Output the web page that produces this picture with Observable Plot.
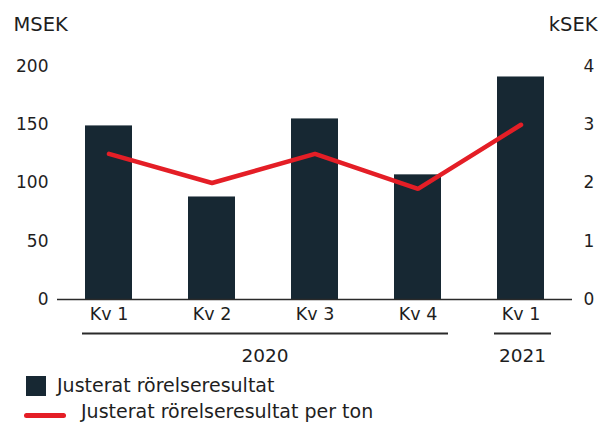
<!DOCTYPE html>
<html><head><meta charset="utf-8">
<script src="https://cdn.jsdelivr.net/npm/d3@7"></script>
<script src="https://cdn.jsdelivr.net/npm/@observablehq/plot@0.6"></script>
<style>
body{margin:0;background:#fff;font-family:"DejaVu Sans",sans-serif;color:#1e1e1e;}
#wrap{position:relative;width:598px;height:423px;overflow:hidden;}
#wrap svg{position:absolute;left:0;top:0;}
.sw{position:absolute;}
.lt{position:absolute;font-size:19px;line-height:20px;white-space:nowrap;color:#1e1e1e;}
</style></head><body><div id="wrap"></div>
<script>
const quarters = ["Kv 1","Kv 2","Kv 3","Kv 4","Kv 1"];
const years = ["2020","2020","2020","2020","2021"];
const result = [149, 88, 155, 107, 191];      // MSEK
const perTon = [2.5, 2.0, 2.5, 1.9, 3.0];     // kSEK
const leftTicks = [0, 50, 100, 150, 200];
const rightTicks = [0, 1, 2, 3, 4];
const seriesNames = ["Justerat rörelseresultat", "Justerat rörelseresultat per ton"];
const unitLeft = "MSEK";
const unitRight = "kSEK";

const barColor = "#172833";
const lineColor = "#e41e26";
const ratio = leftTicks[leftTicks.length-1] / rightTicks[rightTicks.length-1];

const data = quarters.map((q, i) => ({key: years[i] + " " + q, q, year: years[i], result: result[i], perTon: perTon[i]}));
const keyToQ = new Map(data.map(d => [d.key, d.q]));

const plot = Plot.plot({
  width: 598, height: 375,
  marginTop: 66, marginBottom: 76, marginLeft: 57, marginRight: 26,
  style: {fontFamily: "'DejaVu Sans', sans-serif", fontSize: "17px", color: "#1e1e1e", background: "#fff", overflow: "visible"},
  x: {domain: data.map(d => d.key), paddingInner: 0.544, paddingOuter: 0.272},
  y: {domain: [0, 200]},
  marks: [
    Plot.barY(data, {x: "key", y: "result", fill: barColor}),
    Plot.ruleY([0], {stroke: "#2a2a2a", strokeWidth: 1.5}),
    Plot.line(data, {x: "key", y: d => d.perTon * ratio, stroke: lineColor, strokeWidth: 4.5, strokeLinecap: "round", strokeLinejoin: "miter"}),
    Plot.axisX({tickSize: 0, tickPadding: 8, tickFormat: k => keyToQ.get(k), fontSize: 17.5, label: null}),
    Plot.axisY(leftTicks, {anchor: "left", tickSize: 0, tickPadding: 9, label: null}),
    Plot.axisY(rightTicks.map(t => t * ratio), {anchor: "right", tickSize: 0, tickPadding: 11, tickFormat: v => String(v / ratio), label: null}),
    Plot.text([unitLeft], {frameAnchor: "top-left", text: d => d, textAnchor: "start", lineAnchor: "bottom", dx: -44, dy: -36, fontSize: 19.5}),
    Plot.text([unitRight], {frameAnchor: "top-right", text: d => d, textAnchor: "end", lineAnchor: "bottom", dx: 25, dy: -36, fontSize: 19.5})
  ]
});

// year group lines and labels, positioned with the plot's x scale
const sx = plot.scale("x");
const svg = d3.select(plot);
const groups = d3.groups(data, d => d.year);
const baseY = 299;
for (const [yr, rows] of groups) {
  const x0 = sx.apply(rows[0].key) - 3;
  const x1 = sx.apply(rows[rows.length - 1].key) + sx.bandwidth + 7;
  svg.append("line").attr("x1", x0).attr("x2", x1).attr("y1", baseY + 34.5).attr("y2", baseY + 34.5)
    .attr("stroke", "#2a2a2a").attr("stroke-width", 2);
  svg.append("text").attr("x", (x0 + x1) / 2).attr("y", baseY + 63).attr("text-anchor", "middle")
    .attr("font-size", 18.5).attr("fill", "#1e1e1e").text(yr);
}

const wrap = document.getElementById("wrap");
wrap.appendChild(plot);

// legend
function add(html){ const t = document.createElement("div"); t.innerHTML = html; wrap.appendChild(t.firstElementChild); }
add(`<div class="sw" style="left:26px;top:376px;width:20px;height:20px;background:${barColor}"></div>`);
add(`<div class="lt" style="left:57px;top:375px">${seriesNames[0]}</div>`);
add(`<div class="sw" style="left:24px;top:412.5px;width:42px;height:5px;border-radius:3px;background:${lineColor}"></div>`);
add(`<div class="lt" style="left:81px;top:401px">${seriesNames[1]}</div>`);
</script>
</body></html>
